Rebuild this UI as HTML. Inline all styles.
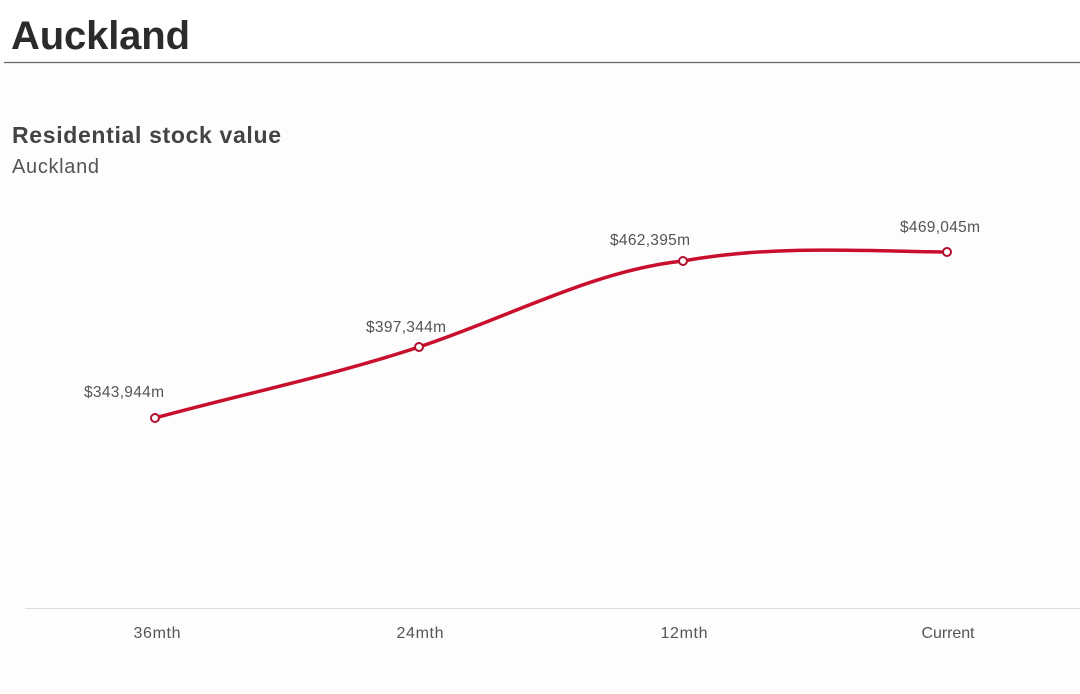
<!DOCTYPE html>
<html><head><meta charset="utf-8"><style>
html,body{margin:0;padding:0;background:#fff;width:1080px;height:694px;overflow:hidden;font-family:"Liberation Sans",sans-serif;}
</style></head><body>
<svg width="1080" height="694" xmlns="http://www.w3.org/2000/svg" style="position:absolute;left:0;top:0">
<rect x="0" y="63" width="1080" height="631" fill="#fdfdfd"/>
<text x="11" y="49" font-size="40" font-weight="bold" fill="#2b2b2b" font-family="Liberation Sans, sans-serif" textLength="179">Auckland</text>
<line x1="4" y1="62.5" x2="1080" y2="62.5" stroke="#666" stroke-width="1.3"/>
<text x="12" y="143" font-size="23" font-weight="bold" fill="#444" font-family="Liberation Sans, sans-serif" textLength="269">Residential stock value</text>
<text x="12" y="173" font-size="20" fill="#555" font-family="Liberation Sans, sans-serif" textLength="87">Auckland</text>
<line x1="25" y1="608.5" x2="1080" y2="608.5" stroke="#ddd" stroke-width="1"/>
<g font-size="16" fill="#555" text-anchor="middle" font-family="Liberation Sans, sans-serif">
<text x="157" y="638" textLength="47">36mth</text>
<text x="420" y="638" textLength="47">24mth</text>
<text x="684" y="638" textLength="47">12mth</text>
<text x="948" y="638" textLength="53">Current</text>
</g>
<path d="M155,418 C243,394 331,376 419,347 C507,318 595,270 683,261 C771,245 859,251 947,252" fill="none" stroke="#c8102e" stroke-width="3.5" stroke-linecap="round"/>
<g fill="#fff" stroke="#b0102e" stroke-width="2">
<circle cx="155" cy="418" r="4"/>
<circle cx="419" cy="347" r="4"/>
<circle cx="683" cy="261" r="4"/>
<circle cx="947" cy="252" r="4"/>
</g>
<g font-size="15.5" fill="#555" text-anchor="middle" font-family="Liberation Sans, sans-serif">
<text x="124" y="397" textLength="80">$343,944m</text>
<text x="406" y="332" textLength="80">$397,344m</text>
<text x="650" y="245" textLength="80">$462,395m</text>
<text x="940" y="232" textLength="80">$469,045m</text>
</g>
</svg>
</body></html>
